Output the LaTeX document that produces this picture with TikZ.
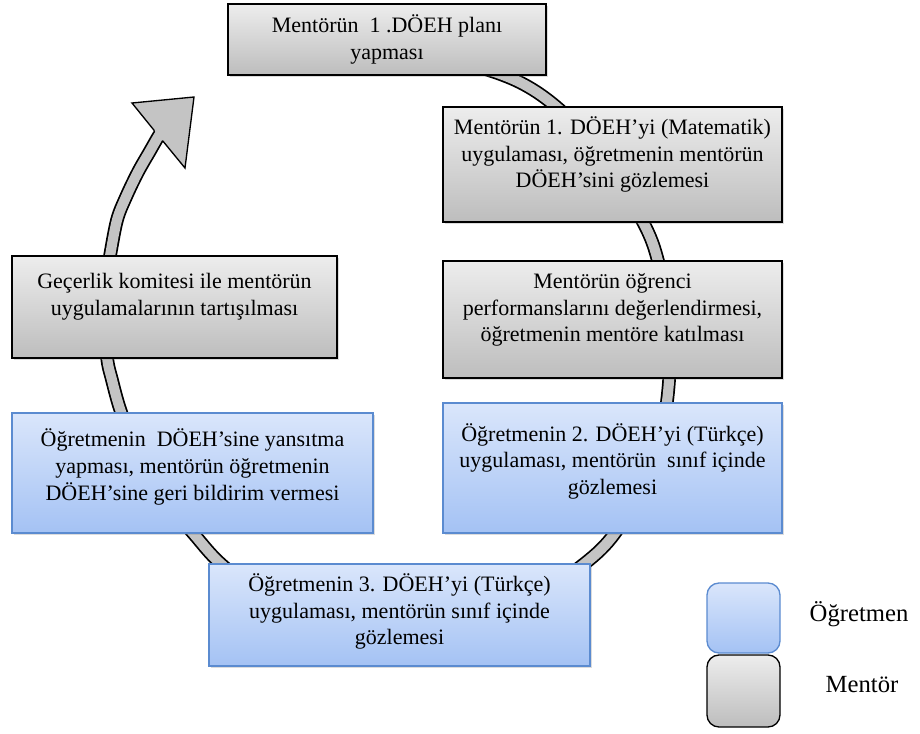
\documentclass[tikz,border=0pt]{standalone}
\usepackage{fontspec}
\setmainfont{Liberation Serif}
\usetikzlibrary{shadows}

\definecolor{mtop}{HTML}{EDEDED}
\definecolor{mbot}{HTML}{BDBDBD}
\definecolor{otop}{HTML}{DAE6FB}
\definecolor{obot}{HTML}{A4C2F4}
\definecolor{oline}{HTML}{5B8BD0}
\definecolor{ringfill}{HTML}{C4C4C4}

\begin{document}
\begin{tikzpicture}[x=0.75pt,y=-0.75pt,
  boxshadow/.style={drop shadow={opacity=0.28,shadow xshift=1.6pt,shadow yshift=-1.6pt}},
  mbox/.style={rectangle,draw=black,line width=1pt,top color=mtop,bottom color=mbot,inner sep=0pt,boxshadow},
  obox/.style={rectangle,draw=oline,line width=1pt,top color=otop,bottom color=obot,inner sep=0pt,boxshadow},
  btext/.style={font=\fontsize{16.5}{20}\selectfont,align=center,inner sep=0pt},
  ltext/.style={font=\fontsize{18.5}{22}\selectfont,inner sep=0pt},
  keybox/.style={rectangle,rounded corners=9pt,line width=1pt,minimum width=54.75pt,inner sep=0pt}]

\useasboundingbox (0,0) rectangle (920,733);

% circular process arrow behind the boxes
\draw[line width=7.6pt,draw=ringfill,preaction={draw=black,line width=10.2pt}]
  plot[smooth,tension=0.55] coordinates {
  (300,64) (380,55) (450,60) (515,80) (560,110) (603,158) (643,222) (658,261)
  (666,310) (670,360) (664,420) (645,480) (615,533) (584,564) (530,600)
  (460,622) (400,628) (330,620) (265,597) (221,564) (193,533) (163,497)
  (138,456) (121,412) (112,380) (107,357) (104,310) (107,275) (110,256)
  (117,220) (126,197) (138,172) (150,151) (158,137) (164,128)};
% arrow head
\fill[ringfill] (132,103) -- (194,97) -- (185,168) -- cycle;
\draw[black,line width=1pt,line join=miter]
  (154.4,130.7) -- (132,103) -- (194,97) -- (185,168) -- (162.6,140.7);

% process steps
\node[mbox,minimum width=238.5pt,minimum height=53.25pt] (b1) at (387,39.5) {};
\node[btext] (t1) at (b1.center) {Mentörün~ 1 .DÖEH planı\\yapması};

\node[mbox,minimum width=254.25pt,minimum height=86.25pt] (b2) at (612.5,164.5) {};
\node[btext] (t2) at ([yshift=7.5pt]b2.center)
  {Mentörün 1. DÖEH’yi (Matematik)\\uygulaması, öğretmenin mentörün\\DÖEH’sini gözlemesi};

\node[mbox,minimum width=254.25pt,minimum height=87.75pt] (b3) at (612.5,319.5) {};
\node[btext] (t3) at ([yshift=7pt]b3.center)
  {Mentörün öğrenci\\performanslarını değerlendirmesi,\\öğretmenin mentöre katılması};

\node[obox,minimum width=254.25pt,minimum height=97.5pt] (b4) at (612.5,468) {};
\node[btext] (t4) at ([yshift=5pt]b4.center)
  {Öğretmenin 2. DÖEH’yi (Türkçe)\\uygulaması, mentörün~ sınıf içinde\\gözlemesi};

\node[obox,minimum width=285.75pt,minimum height=76.5pt] (b5) at (399.5,615) {};
\node[btext] (t5) at ([yshift=2.5pt]b5.center)
  {Öğretmenin 3. DÖEH’yi (Türkçe)\\uygulaması, mentörün sınıf içinde\\gözlemesi};

\node[obox,minimum width=270.75pt,minimum height=90pt] (b6) at (192.5,473) {};
\node[btext] (t6) at ([yshift=4.5pt]b6.center)
  {Öğretmenin~ DÖEH’sine yansıtma\\yapması, mentörün öğretmenin\\DÖEH’sine geri bildirim vermesi};

\node[mbox,minimum width=243.75pt,minimum height=76.5pt] (b7) at (174.5,307) {};
\node[btext] (t7) at ([yshift=7.5pt]b7.center)
  {Geçerlik komitesi ile mentörün\\uygulamalarının tartışılması};

% key
\node[keybox,draw=oline,top color=otop,bottom color=obot,minimum height=52.5pt] (kt) at (743.5,618) {};
\node[keybox,draw=black,top color=mtop,bottom color=mbot,minimum height=54pt] (km) at (743.5,691) {};
\node[ltext] (ktl) at (859,614) {Öğretmen};
\node[ltext] (kml) at (862,685) {Mentör};

\end{tikzpicture}
\end{document}
